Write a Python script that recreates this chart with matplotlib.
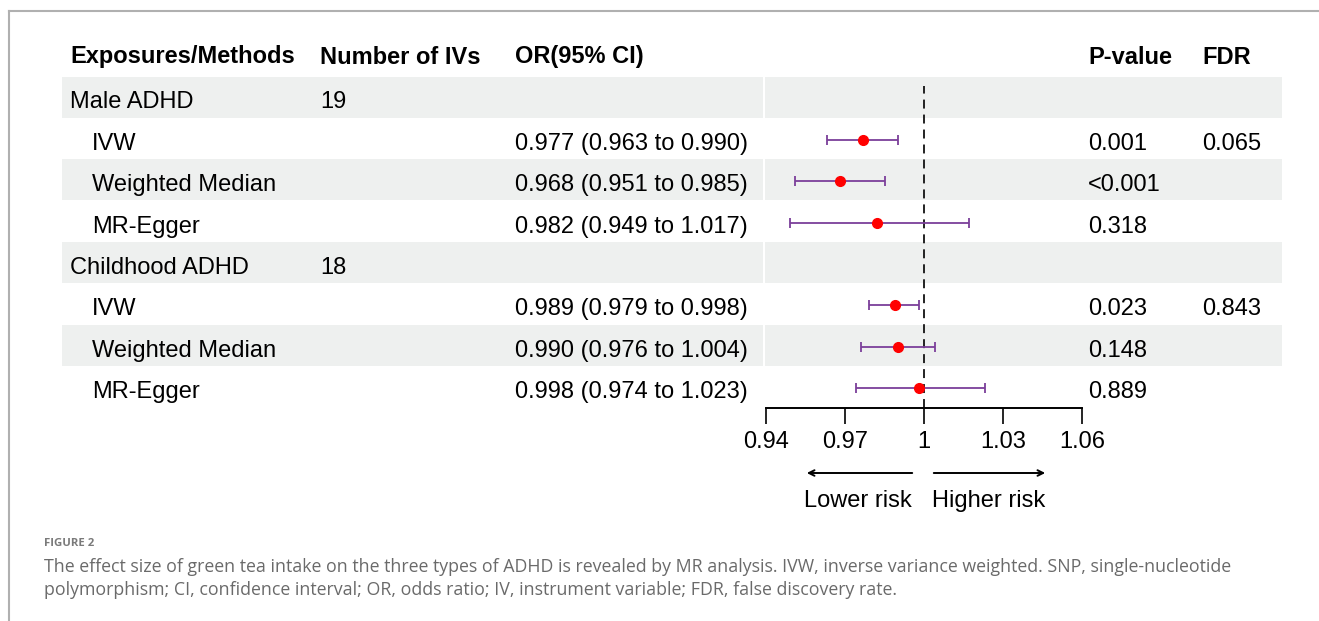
import matplotlib.pyplot as plt
import numpy as np

# data
exposures = ["Male ADHD", "Childhood ADHD"]
n_ivs = ["19", "18"]
methods = ["IVW", "Weighted Median", "MR-Egger"]
or_est = [0.977, 0.968, 0.982, 0.989, 0.990, 0.998]
ci_low = [0.963, 0.951, 0.949, 0.979, 0.976, 0.974]
ci_high = [0.990, 0.985, 1.017, 0.998, 1.004, 1.023]
p_values = ["0.001", "<0.001", "0.318", "0.023", "0.148", "0.889"]
fdr = ["0.065", "", "", "0.843", "", ""]
x_ticks = [0.94, 0.97, 1, 1.03, 1.06]
x_tick_labels = ["0.94", "0.97", "1", "1.03", "1.06"]
headers = ["Exposures/Methods", "Number of IVs", "OR(95% CI)", "P-value", "FDR"]
caption_title = "FIGURE 2"
caption_lines = [
    "The effect size of green tea intake on the three types of ADHD is revealed by MR analysis. "
    "IVW, inverse variance weighted. SNP, single-nucleotide",
    "polymorphism; CI, confidence interval; OR, odds ratio; IV, instrument variable; FDR, false discovery rate.",
]

tfont, tsize = "Liberation Sans", 17

W, H = 1319, 621
fig = plt.figure(figsize=(W / 100, H / 100), dpi=100)
ax = fig.add_axes([0, 0, 1, 1])
ax.set_xlim(0, W)
ax.set_ylim(H, 0)
ax.axis("off")

# page frame
ax.plot([9, W], [11, 11], color="#b0b0b0", lw=1.5)
ax.plot([9, 9], [11, H], color="#b0b0b0", lw=1.5)

row0, dy = 97, 41.35
col_x = [70, 320, 515, 1088, 1202]
shade = "#eef0ef"

# build rows
rows = []
k = 0
for e, n in zip(exposures, n_ivs):
    rows.append(("group", e, n, None))
    for m in methods:
        rows.append(("method", m, "", k))
        k += 1

for i, (kind, label, n, idx) in enumerate(rows):
    yc = row0 + dy * i
    yb = yc + 11.5
    if i % 2 == 0:
        ax.fill_between([62, 763], yc - 20.5, yc + 20.5, color=shade, lw=0)
        ax.fill_between([765, 1282], yc - 20.5, yc + 20.5, color=shade, lw=0)
    if kind == "group":
        ax.text(col_x[0], yb, label, fontsize=tsize, family=tfont, va="baseline")
        ax.text(col_x[1], yb, n, fontsize=tsize, family=tfont, va="baseline")
    else:
        ax.text(col_x[0] + 22, yb, label, fontsize=tsize, family=tfont, va="baseline")
        txt = f"{or_est[idx]:.3f} ({ci_low[idx]:.3f} to {ci_high[idx]:.3f})"
        ax.text(col_x[2], yb, txt, fontsize=tsize, family=tfont, va="baseline")
        ax.text(col_x[3], yb, p_values[idx], fontsize=tsize, family=tfont, va="baseline")
        ax.text(col_x[4], yb, fdr[idx], fontsize=tsize, family=tfont, va="baseline")

for x, h in zip(col_x, headers):
    ax.text(x, 63.5, h, fontsize=tsize, family=tfont, weight="bold", va="baseline")

# forest axes
x0, x1 = 766, 1082
ytop, ybot = 80, 408
prow = row0 + 1.5
fax = fig.add_axes([x0 / W, 1 - ybot / H, (x1 - x0) / W, (ybot - ytop) / H])
fax.patch.set_alpha(0)
fax.set_xlim(0.94, 1.06)
fax.set_ylim((ybot - prow) / dy, (ytop - prow) / dy)
for s in ["top", "right", "left"]:
    fax.spines[s].set_visible(False)
fax.spines["bottom"].set_linewidth(1.4)
fax.set_yticks([])
fax.set_xticks(x_ticks)
fax.set_xticklabels(x_tick_labels, family=tfont, fontsize=tsize)
fax.tick_params(axis="x", direction="out", length=11.5, width=1.2, pad=5)

fax.vlines(1, (ybot - prow) / dy, (86 - prow) / dy, colors="#222222",
           linestyles=(0, (4.6, 3.1)), lw=1.4)

ypos = [i for i, r in enumerate(rows) if r[0] == "method"]
est = np.array(or_est)
err = [est - np.array(ci_low), np.array(ci_high) - est]
fax.errorbar(est, ypos, xerr=err, fmt="none", ecolor="#7b3f9a", elinewidth=1.3,
             capsize=3.6, capthick=1.3)
fax.plot(est, ypos, "o", color="red", markersize=7, zorder=3)

# risk arrows
ax.annotate("", xy=(804, 473), xytext=(915, 473),
            arrowprops=dict(arrowstyle="->", lw=1.4, color="black"))
ax.annotate("", xy=(1048, 473), xytext=(931, 473),
            arrowprops=dict(arrowstyle="->", lw=1.4, color="black"))
ax.text(912, 507, "Lower risk", fontsize=tsize, family=tfont, ha="right", va="baseline")
ax.text(932, 507, "Higher risk", fontsize=tsize, family=tfont, ha="left", va="baseline")

# caption
ax.text(44, 543, caption_title, fontsize=8.2, family="Open Sans", weight="bold",
        color="#7a7a7a", va="center")
for j, line in enumerate(caption_lines):
    ax.text(44, 567 + 23 * j, line, fontsize=12.8, family="Open Sans", color="#6a6a6a",
            va="center")

fig.savefig("out.png", dpi=100)
